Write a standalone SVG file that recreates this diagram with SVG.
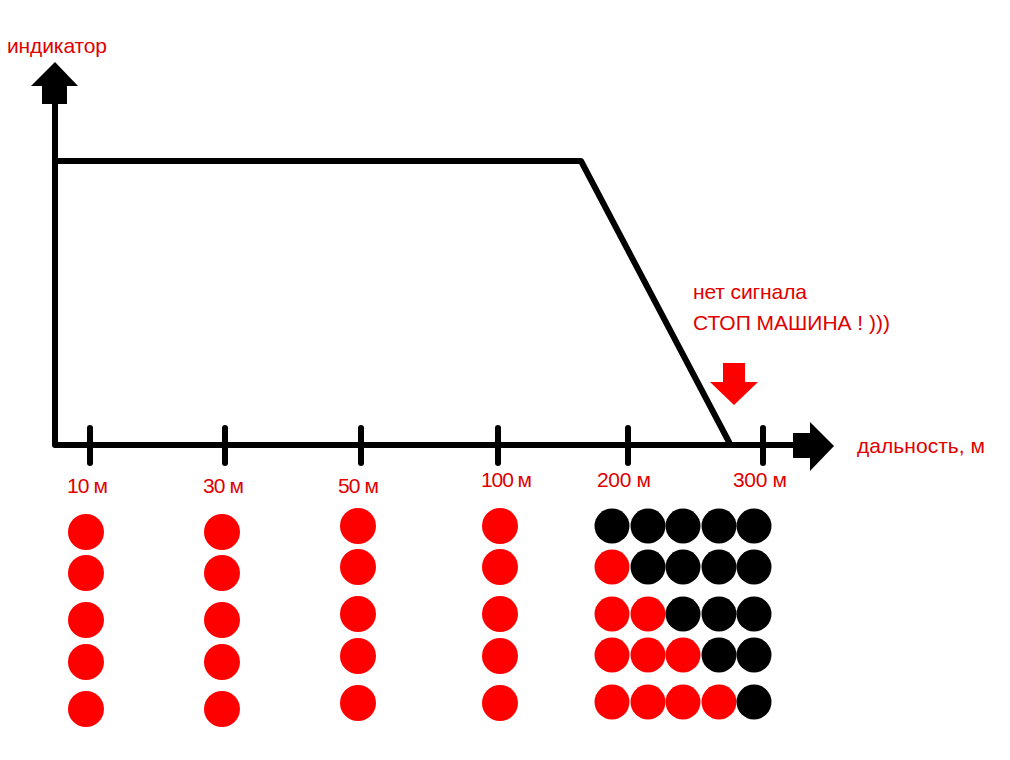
<svg xmlns="http://www.w3.org/2000/svg" width="1010" height="760" viewBox="0 0 1010 760">
<style>
.ax{fill:none;stroke:#000;stroke-width:6;stroke-linecap:round;stroke-linejoin:round}
.tk{stroke:#000;stroke-width:6;stroke-linecap:round}
.t{font-family:"Liberation Sans",Arial,sans-serif;font-size:21px;fill:#e00000}
.r{fill:#ff0000}
.b{fill:#000}
</style>
<rect width="1010" height="760" fill="#fff"/>
<g id="axes">
<path class="ax" d="M55,102 L55,445 L796,445"/>
<polygon class="b" points="42,104 67,104 67,86 78,86 55,62 31,86 42,86"/>
<polygon class="b" points="793,433 810,433 810,422 834,446 810,471 810,458 793,458"/>
<line class="tk" x1="90" y1="428" x2="90" y2="463"/>
<line class="tk" x1="225" y1="428" x2="225" y2="463"/>
<line class="tk" x1="361" y1="428" x2="361" y2="463"/>
<line class="tk" x1="498" y1="428" x2="498" y2="463"/>
<line class="tk" x1="628" y1="428" x2="628" y2="463"/>
<line class="tk" x1="763" y1="428" x2="763" y2="463"/>
</g>
<g id="connectors">
<path class="ax" stroke-linecap="butt" d="M55,161 L581,161 L729,442"/>
</g>
<g id="signal-arrow">
<polygon class="r" points="723,363 745,363 745,382 758,382 734,405 710,382 723,382"/>
</g>
<g id="labels">
<text class="t" x="7" y="53" textLength="100">индикатор</text>
<text class="t" x="857" y="453" textLength="128">дальность, м</text>
<text class="t" x="693" y="299" textLength="114">нет сигнала</text>
<text class="t" x="693" y="330" textLength="197">СТОП МАШИНА ! )))</text>
<text class="t" x="67" y="493" textLength="41">10 м</text>
<text class="t" x="203" y="493" textLength="41">30 м</text>
<text class="t" x="338" y="493" textLength="41">50 м</text>
<text class="t" x="481" y="487" textLength="51">100 м</text>
<text class="t" x="597" y="487" textLength="54">200 м</text>
<text class="t" x="733" y="487" textLength="54">300 м</text>
</g>
<g id="col-10">
<circle class="r" cx="86" cy="532" r="18"/><circle class="r" cx="86" cy="573" r="18"/><circle class="r" cx="86" cy="620" r="18"/><circle class="r" cx="86" cy="662" r="18"/><circle class="r" cx="86" cy="709" r="18"/>
</g>
<g id="col-30">
<circle class="r" cx="222" cy="532" r="18"/><circle class="r" cx="222" cy="573" r="18"/><circle class="r" cx="222" cy="620" r="18"/><circle class="r" cx="222" cy="662" r="18"/><circle class="r" cx="222" cy="709" r="18"/>
</g>
<g id="col-50">
<circle class="r" cx="358" cy="526" r="18"/><circle class="r" cx="358" cy="567" r="18"/><circle class="r" cx="358" cy="614" r="18"/><circle class="r" cx="358" cy="656" r="18"/><circle class="r" cx="358" cy="703" r="18"/>
</g>
<g id="col-100">
<circle class="r" cx="500" cy="526" r="18"/><circle class="r" cx="500" cy="567" r="18"/><circle class="r" cx="500" cy="614" r="18"/><circle class="r" cx="500" cy="656" r="18"/><circle class="r" cx="500" cy="703" r="18"/>
</g>
<g id="grid-200-300">
<circle class="b" cx="612" cy="526" r="17.5"/><circle class="b" cx="648" cy="526" r="17.5"/><circle class="b" cx="683" cy="526" r="17.5"/><circle class="b" cx="719" cy="526" r="17.5"/><circle class="b" cx="754" cy="526" r="17.5"/>
<circle class="r" cx="612" cy="567" r="17.5"/><circle class="b" cx="648" cy="567" r="17.5"/><circle class="b" cx="683" cy="567" r="17.5"/><circle class="b" cx="719" cy="567" r="17.5"/><circle class="b" cx="754" cy="567" r="17.5"/>
<circle class="r" cx="612" cy="614" r="17.5"/><circle class="r" cx="648" cy="614" r="17.5"/><circle class="b" cx="683" cy="614" r="17.5"/><circle class="b" cx="719" cy="614" r="17.5"/><circle class="b" cx="754" cy="614" r="17.5"/>
<circle class="r" cx="612" cy="655" r="17.5"/><circle class="r" cx="648" cy="655" r="17.5"/><circle class="r" cx="683" cy="655" r="17.5"/><circle class="b" cx="719" cy="655" r="17.5"/><circle class="b" cx="754" cy="655" r="17.5"/>
<circle class="r" cx="612" cy="702" r="17.5"/><circle class="r" cx="648" cy="702" r="17.5"/><circle class="r" cx="683" cy="702" r="17.5"/><circle class="r" cx="719" cy="702" r="17.5"/><circle class="b" cx="754" cy="702" r="17.5"/>
</g>
</svg>
